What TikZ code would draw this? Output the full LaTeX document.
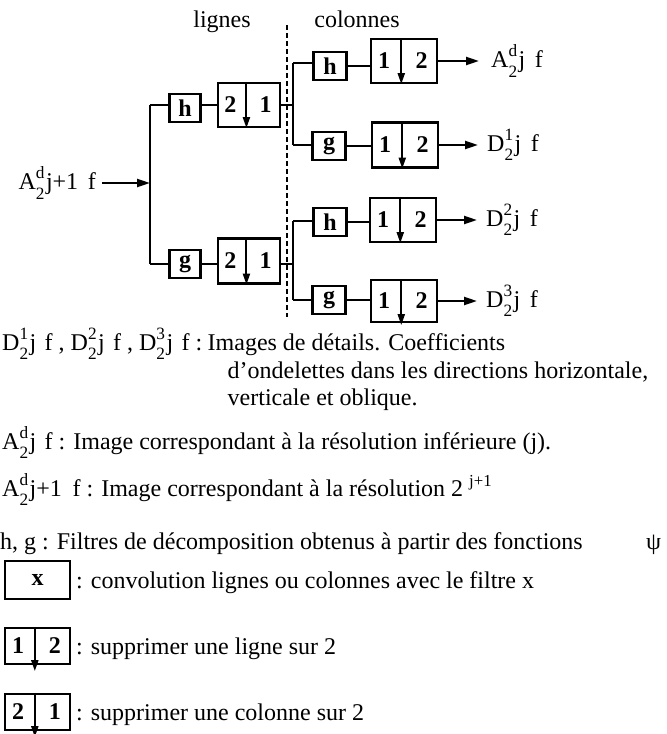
\documentclass[tikz,border=0pt]{standalone}
\usepackage{fontspec}
\setmainfont{Liberation Serif}
\usepackage{graphicx}
\usetikzlibrary{arrows.meta,calc}
\newcommand{\supsubx}[2]{\rlap{\raisebox{0.45em}{\scalebox{0.72}{#1}}}\raisebox{-0.4em}{\scalebox{0.72}{#2}}\hspace{0.06em}}
\newcommand{\legfont}{\fontsize{24}{28}\selectfont}
\newcommand{\decbox}[8]{%
  \node[dbox, minimum width=#4pt, minimum height=#5pt] (#1) at (#2,#3) {};
  \node[digit] (#1l) at ($(#1.west)!0.21!(#1.east)$) {#6};
  \node[digit] (#1r) at ($(#1.west)!0.76!(#1.east)$) {#7};
  \coordinate (#1a) at ($(#1.north west)!0.46!(#1.north east)$);
  \coordinate (#1b) at ($(#1.south west)!0.46!(#1.south east)+(0,#8)$);
  \draw[darr] (#1a) -- (#1b);}
\begin{document}
\begin{tikzpicture}[x=1pt,y=-1pt,
  wire/.style={line width=2.2pt},
  arr/.style={line width=2.2pt,-{Triangle[length=13pt,width=8pt]}},
  darr/.style={line width=2pt,-{Triangle[length=11pt,width=7pt]}},
  fbox/.style={draw,line width=2.2pt,minimum width=31pt,minimum height=28pt,inner sep=0pt,font=\bfseries\fontsize{24}{24}\selectfont},
  dbox/.style={draw,line width=2.2pt,inner sep=0pt},
  digit/.style={inner sep=0pt,font=\bfseries\fontsize{24}{24}\selectfont},
  lbl/.style={anchor=west,inner sep=0pt,font=\fontsize{24}{28}\selectfont},
  head/.style={anchor=base,inner sep=0pt,font=\fontsize{24}{28}\selectfont},
  leg/.style={anchor=base west,inner sep=0pt,font=\legfont},
  ]
\useasboundingbox (0,0) rectangle (667,734);
% headings and separator
\node[head] (hl) at (222,27) {lignes};
\node[head] (hc) at (357,27) {colonnes};
\coordinate (dtop) at (287,25);
\coordinate (dbot) at (287,317);
\draw[line width=2.4pt, dash pattern=on 5pt off 3pt] (dtop) -- (dbot);
% input
\node[lbl, anchor=east] (in) at (96,183) {A\supsubx{d}{2}j+1\hspace{0.4em}f};
\coordinate (bl) at (150,183);
\coordinate (blt) at (150,105);
\coordinate (blb) at (150,264);
\draw[arr] ([xshift=6pt]in.east) -- (bl);
\draw[wire] (blt) -- (blb);
% line stage
\node[fbox] (h1) at (185,108) {h};
\node[fbox] (g1) at (185,264) {g};
\decbox{d1}{249}{105}{62}{44}{2}{1}{0}
\decbox{d2}{249}{261}{62}{45}{2}{1}{0}
\draw[wire] (blt) -- (blt -| h1.west);
\draw[wire] (blb) -- (g1.west);
\draw[wire] (h1.east |- d1.west) -- (d1.west);
\draw[wire] (g1.east) -- (g1.east -| d2.west);
% column stage buses
\coordinate (bru) at (293,105);
\coordinate (brut) at (293,63);
\coordinate (brub) at (293,145);
\coordinate (brl) at (293,264);
\coordinate (brlt) at (293,221);
\coordinate (brlb) at (293,300);
\draw[wire] (d1.east) -- (bru);
\draw[wire] (brl -| d2.east) -- (brl);
\draw[wire] (brut) -- (brub);
\draw[wire] (brlt) -- (brlb);
\node[fbox,minimum width=33pt] (h2) at (330,66) {h};
\node[fbox,minimum width=33pt] (g2) at (329,146) {g};
\node[fbox,minimum width=33pt] (h3) at (330,222) {h};
\node[fbox,minimum width=33pt] (g3) at (329,300) {g};
\draw[wire] (brut) -- (brut -| h2.west);
\draw[wire] (brub) -- (brub -| g2.west);
\draw[wire] (brlt) -- (brlt -| h3.west);
\draw[wire] (brlb) -- (brlb -| g3.west);
\decbox{d3}{404}{61}{66}{44}{1}{2}{0}
\decbox{d4}{405}{145}{66}{45}{1}{2}{0}
\decbox{d5}{403}{220}{66}{44}{1}{2}{0}
\decbox{d6}{404}{301}{66}{42}{1}{2}{2}
\draw[wire] (h2.east) -- (h2.east -| d3.west);
\draw[wire] (g2.east) -- (g2.east -| d4.west);
\draw[wire] (h3.east) -- (h3.east -| d5.west);
\draw[wire] (g3.east) -- (g3.east -| d6.west);
\node[lbl] (o1) at (491,61) {A\supsubx{d}{2}j\hspace{0.4em}f};
\node[lbl] (o2) at (487,145) {D\supsubx{1}{2}j\hspace{0.4em}f};
\node[lbl] (o3) at (486,220) {D\supsubx{2}{2}j\hspace{0.4em}f};
\node[lbl] (o4) at (486,301) {D\supsubx{3}{2}j\hspace{0.4em}f};
\draw[arr] (d3.east) -- ([xshift=-12pt]d3.east -| o1.west);
\draw[arr] (d4.east) -- ([xshift=-9pt]d4.east -| o2.west);
\draw[arr] (d5.east) -- ([xshift=-9pt]d5.east -| o3.west);
\draw[arr] (d6.east) -- ([xshift=-9pt]d6.east -| o4.west);
% legend
\node[leg] (p1a) at (2,350) {D\supsubx{1}{2}j\hspace{0.35em}f , D\supsubx{2}{2}j\hspace{0.35em}f , D\supsubx{3}{2}j\hspace{0.35em}f :};
\node[leg] (p1b) at ([xshift=5pt]p1a.base east) {Images de détails. Coefficients};
\node[leg] (p2) at ([xshift=20pt,yshift=-28pt]p1b.base west) {d'ondelettes dans les directions horizontale,};
\node[leg] (p3) at ([yshift=-27pt]p2.base west) {verticale et oblique.};
\node[leg] (la) at (2,449) {A\supsubx{d}{2}j\hspace{0.35em}f : Image correspondant à la résolution inférieure (j).};
\node[leg] (lb) at (2,496) {A\supsubx{d}{2}j+1\hspace{0.45em}f : Image correspondant à la résolution 2 \textsuperscript{j+1}};
\node[leg] (lc) at (0,549) {h, g : Filtres de décomposition obtenus à partir des fonctions};
\node[leg] (psi) at (646,549) {ψ};
\node[fbox,minimum width=65pt,minimum height=38pt] (kx) at (37.5,580) {x};
\node[leg] (kxt) at (76,588) {: convolution lignes ou colonnes avec le filtre x};
\decbox{k1}{37.5}{646}{65}{36}{1}{2}{6}
\node[leg] (k1t) at (76,654) {: supprimer une ligne sur 2};
\decbox{k2}{37.5}{712}{65}{36}{2}{1}{6}
\node[leg] (k2t) at (76,720) {: supprimer une colonne sur 2};
\end{tikzpicture}
\end{document}
